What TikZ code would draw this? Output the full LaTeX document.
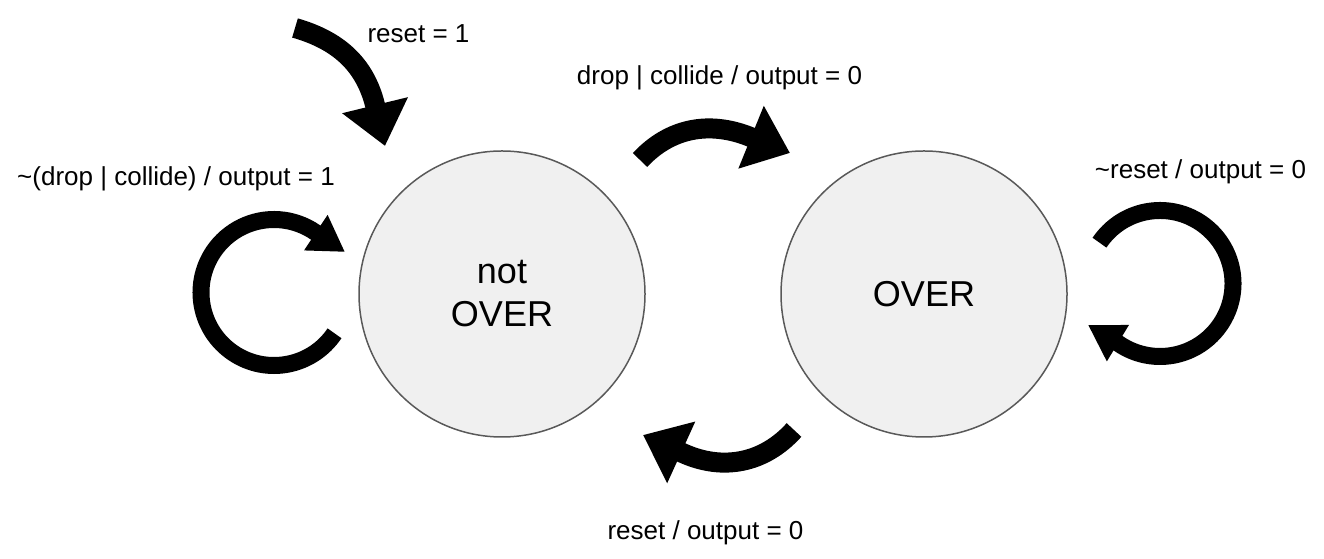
\documentclass[tikz,border=0pt]{standalone}
\usepackage{fontspec}
\setmainfont{Liberation Sans}
\usetikzlibrary{arrows.meta,calc}
\begin{document}
\begin{tikzpicture}[
    estado/.style={circle, draw=black!65, line width=0.03cm, fill=black!6, minimum size=5.72cm, inner sep=0pt, align=center, font=\fontsize{20.5}{24.5}\selectfont},
    flecha/.style={line width=0.4cm, -{Triangle[length=0.84cm, width=1.3cm]}},
    lazo/.style={line width=0.34cm, -{Triangle[length=0.7cm, width=0.8cm]}},
    etiqueta/.style={anchor=base, inner sep=0pt, font=\fontsize{14.8}{18}\selectfont}
]
    \useasboundingbox (0,0) rectangle (26.48,11.18);

    % Estados
    \node[estado] (noover) at (10.04,5.30) {not\\OVER};
    \node[estado] (over) at (18.48,5.30) {OVER};

    % Puntos de las flechas
    \coordinate (resetTail) at (5.90,10.62);
    \coordinate (resetBase) at (7.50,9.08);
    \coordinate (resetTip) at (7.70,8.26);
    \coordinate (dropTail) at (12.80,7.98);
    \coordinate (dropBase) at (15.01,8.44);
    \coordinate (dropTip) at (15.80,8.12);
    \coordinate (backTail) at (15.88,2.58);
    \coordinate (backBase) at (13.65,2.12);
    \coordinate (backTip) at (12.86,2.48);
    \coordinate (lazoIzqC) at (5.48,5.33);
    \coordinate (lazoIzqTip) at (6.90,6.14);
    \coordinate (lazoDerC) at (23.20,5.51);
    \coordinate (lazoDerTip) at (21.76,4.68);

    % Flechas
    \draw[flecha] (resetTail) to[out=-16, in=104] (resetBase) -- (resetTip);
    \draw[flecha] (dropTail) to[out=47, in=158] (dropBase) -- (dropTip);
    \draw[flecha] (backTail) to[out=228, in=-24.5] (backBase) -- (backTip);
    \draw[lazo] ($(lazoIzqC)+(-34:1.46)$) arc[start angle=-34, end angle=-304.5, radius=1.46] -- (lazoIzqTip);
    \draw[lazo] ($(lazoDerC)+(146:1.46)$) arc[start angle=146, end angle=-125, radius=1.46] -- (lazoDerTip);

    % Etiquetas
    \node[etiqueta] (lblReset) at (8.37,10.32) {reset = 1};
    \node[etiqueta] (lblDrop) at (14.39,9.48) {drop | collide / output = 0};
    \node[etiqueta] (lblStay) at (3.52,7.46) {\textasciitilde(drop | collide) / output = 1};
    \node[etiqueta] (lblWait) at (24.01,7.61) {\textasciitilde reset / output = 0};
    \node[etiqueta] (lblBack) at (14.11,0.39) {reset / output = 0};

\end{tikzpicture}
\end{document}
